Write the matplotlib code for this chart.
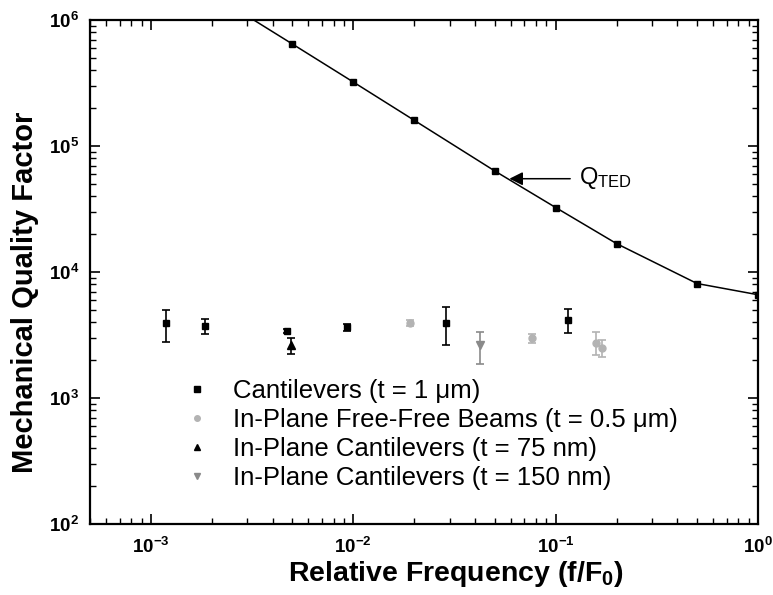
import numpy as np
import matplotlib
matplotlib.use("Agg")
import matplotlib.pyplot as plt
from matplotlib.ticker import LogLocator, FuncFormatter, NullFormatter

plt.rcParams['font.family'] = ['Liberation Sans', 'DejaVu Sans']
plt.rcParams['mathtext.fontset'] = 'custom'
plt.rcParams['mathtext.rm'] = 'Liberation Sans'
plt.rcParams['mathtext.bf'] = 'Liberation Sans:bold'
plt.rcParams['mathtext.it'] = 'Liberation Sans:italic'

# Thermoelastic damping limit
ted_f = [0.002, 0.005, 0.01, 0.02, 0.05, 0.1, 0.2, 0.5, 1.0]
ted_q = [1.61e6, 6.45e5, 3.22e5, 1.60e5, 6.34e4, 3.25e4, 1.68e4, 8.1e3, 6.6e3]

# Cantilevers (t = 1 um)
cant_f = [1.19e-3, 1.85e-3, 4.72e-3, 9.3e-3, 0.0287, 0.1146]
cant_q = [3.92e3, 3.70e3, 3.40e3, 3.65e3, 3.96e3, 4.19e3]
cant_lo = [2.80e3, 3.20e3, 3.28e3, 3.40e3, 2.65e3, 3.28e3]
cant_hi = [5.00e3, 4.20e3, 3.52e3, 3.90e3, 5.27e3, 5.06e3]

# In-plane free-free beams (t = 0.5 um)
ff_f = [0.0191, 0.0763, 0.158, 0.169]
ff_q = [3.92e3, 2.99e3, 2.75e3, 2.49e3]
ff_lo = [3.70e3, 2.73e3, 2.18e3, 2.11e3]
ff_hi = [4.15e3, 3.25e3, 3.32e3, 2.87e3]

# In-plane cantilevers (t = 75 nm)
ip75_f = [4.91e-3]
ip75_q = [2.65e3]
ip75_lo = [2.22e3]
ip75_hi = [3.00e3]

# In-plane cantilevers (t = 150 nm)
ip150_f = [0.0421]
ip150_q = [2.62e3]
ip150_lo = [1.87e3]
ip150_hi = [3.34e3]

W, H = 773, 595
fig = plt.figure(figsize=(W / 100, H / 100), dpi=100)
ax = fig.add_axes([90 / W, 1 - 524 / H, (758 - 90) / W, (524 - 20) / H])
ax.set_xscale('log')
ax.set_yscale('log')
ax.set_xlim(5e-4, 1.0)
ax.set_ylim(1e2, 1e6)

light = '#b3b3b3'
mid = '#8a8a8a'

def yerr(q, lo, hi):
    q = np.asarray(q); lo = np.asarray(lo); hi = np.asarray(hi)
    return [q - lo, hi - q]

ax.plot(ted_f, ted_q, color='black', lw=1.1, marker='s', ms=5,
        markevery=list(range(1, len(ted_f))), zorder=3)

eb_kw = dict(fmt='none', capsize=3, elinewidth=1.2, capthick=1.2, zorder=2)
ax.errorbar(cant_f, cant_q, yerr=yerr(cant_q, cant_lo, cant_hi), ecolor='black', **eb_kw)
ax.errorbar(ff_f, ff_q, yerr=yerr(ff_q, ff_lo, ff_hi), ecolor=light, **eb_kw)
ax.errorbar(ip75_f, ip75_q, yerr=yerr(ip75_q, ip75_lo, ip75_hi), ecolor='black', **eb_kw)
ax.errorbar(ip150_f, ip150_q, yerr=yerr(ip150_q, ip150_lo, ip150_hi), ecolor=mid, **eb_kw)

ax.plot(cant_f, cant_q, ls='none', marker='s', ms=5, color='black',
        label='Cantilevers (t = 1 \u03bcm)', zorder=4)
ax.plot(ff_f, ff_q, ls='none', marker='o', ms=5, color=light,
        label='In-Plane Free-Free Beams (t = 0.5 \u03bcm)', zorder=4)
ax.plot(ip75_f, ip75_q, ls='none', marker='^', ms=6, color='black',
        label='In-Plane Cantilevers (t = 75 nm)', zorder=4)
ax.plot(ip150_f, ip150_q, ls='none', marker='v', ms=6, color=mid,
        label='In-Plane Cantilevers (t = 150 nm)', zorder=4)

leg = ax.legend(loc='upper left', bbox_to_anchor=(184 / W, 1 - 379 / H),
                bbox_transform=fig.transFigure, frameon=False, fontsize=18.5,
                handlelength=1.0, handletextpad=0.92, labelspacing=0.2,
                borderpad=0, borderaxespad=0, markerscale=0.8)

# Q_TED pointer
ax.annotate('', xy=(0.0591, 5.5e4), xytext=(0.118, 5.5e4),
            arrowprops=dict(arrowstyle='-|>', color='black', lw=1.1,
                            mutation_scale=20, shrinkA=0, shrinkB=0))
ax.text(0.13, 5.6e4, r'Q$_{\mathrm{TED}}$', fontsize=17, ha='left', va='center')

# Axes styling
for s in ax.spines.values():
    s.set_linewidth(1.6)

ax.xaxis.set_major_locator(LogLocator(base=10, numticks=10))
ax.yaxis.set_major_locator(LogLocator(base=10, numticks=10))
ax.xaxis.set_minor_locator(LogLocator(base=10, subs=np.arange(2, 10), numticks=20))
ax.yaxis.set_minor_locator(LogLocator(base=10, subs=np.arange(2, 10), numticks=20))
fmt = FuncFormatter(lambda v, p: r'$\mathbf{10^{%d}}$' % int(round(np.log10(v))))
ax.xaxis.set_major_formatter(fmt)
ax.yaxis.set_major_formatter(fmt)
ax.xaxis.set_minor_formatter(NullFormatter())
ax.yaxis.set_minor_formatter(NullFormatter())
ax.tick_params(which='both', direction='in', top=True, right=True, labelsize=13.5)
ax.tick_params(which='major', length=7.5, width=1.2)
ax.tick_params(which='minor', length=4.3, width=1.0)
ax.tick_params(axis='x', which='major', pad=9)
ax.tick_params(axis='y', which='major', pad=8)

ax.set_xlabel('Relative Frequency (f/F$_{\\mathbf{0}}$)', fontsize=20.5, fontweight='bold')
ax.set_ylabel('Mechanical Quality Factor', fontsize=21, fontweight='bold')
ax.xaxis.set_label_coords((456 - 90) / 668, -(581 - 524) / 504)
ax.xaxis.label.set_va('baseline')
ax.yaxis.set_label_coords((25 - 90) / 668, (524 - 292) / 504)
ax.yaxis.label.set_va('center')

fig.savefig('out.png', dpi=100)
